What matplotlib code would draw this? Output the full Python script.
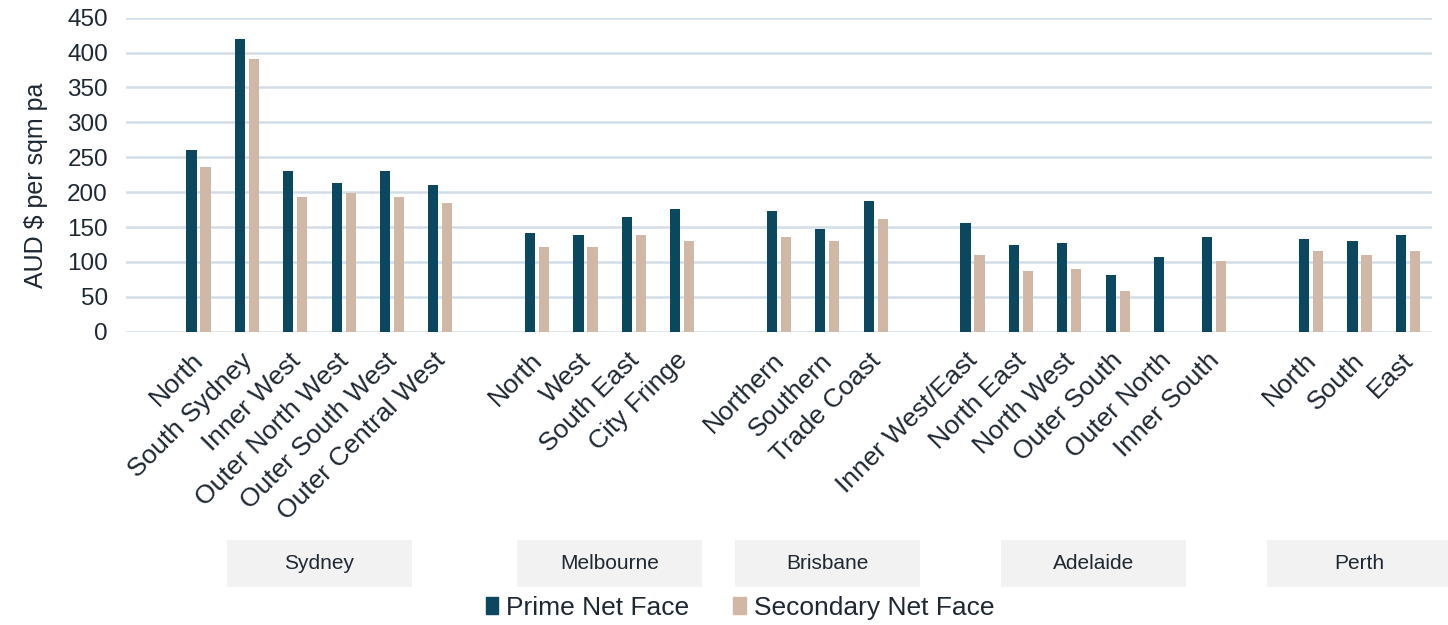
"""Industrial net face rents by city precinct."""

import matplotlib
matplotlib.use("Agg")
import matplotlib.pyplot as plt
from matplotlib.patches import Patch, Rectangle
import matplotlib.transforms as mtransforms

plt.rcParams["font.family"] = ["Liberation Sans", "DejaVu Sans"]

TEXT = "#1e2833"
PRIME_COLOR = "#0b475e"
SECONDARY_COLOR = "#d1b8a6"
GRID_COLOR = "#d3dde8"

cities = ["Sydney", "Melbourne", "Brisbane", "Adelaide", "Perth"]
precincts = [
    ["North", "South Sydney", "Inner West", "Outer North West",
     "Outer South West", "Outer Central West"],
    ["North", "West", "South East", "City Fringe"],
    ["Northern", "Southern", "Trade Coast"],
    ["Inner West/East", "North East", "North West", "Outer South",
     "Outer North", "Inner South"],
    ["North", "South", "East"],
]
prime = [
    [260, 420, 230, 213, 230, 210],
    [141, 139, 164, 176],
    [173, 147, 187],
    [156, 124, 127, 81, 107, 136],
    [133, 130, 139],
]
secondary = [
    [236, 391, 193, 199, 193, 184],
    [121, 121, 139, 130],
    [136, 130, 161],
    [110, 87, 90, 58, None, 101],
    [116, 110, 116],
]

# one empty slot in front of every city group
xs, labels, p_vals, s_vals, group_centres = [], [], [], [], []
pos = 0
for names, pv, sv in zip(precincts, prime, secondary):
    pos += 1
    start = pos
    for n, a, b in zip(names, pv, sv):
        xs.append(pos)
        labels.append(n)
        p_vals.append(a)
        s_vals.append(b)
        pos += 1
    group_centres.append((start + pos - 1) / 2)

fig = plt.figure(figsize=(14.48, 6.25), dpi=100)
ax = fig.add_axes([0.087, 0.4693, 0.902, 0.5024])

w = 0.21
off = 0.145
ax.bar([x - off for x in xs], p_vals, width=w, color=PRIME_COLOR, zorder=3)
sx = [x + off for x, v in zip(xs, s_vals) if v is not None]
sv = [v for v in s_vals if v is not None]
ax.bar(sx, sv, width=w, color=SECONDARY_COLOR, zorder=3)

ax.set_xlim(-0.5, pos - 0.5)
ax.set_ylim(0, 450)
ax.set_yticks(range(0, 451, 50))
ax.yaxis.grid(True, color=GRID_COLOR, linewidth=1.8, zorder=0)
for s in ax.spines.values():
    s.set_visible(False)
ax.tick_params(axis="both", length=0, labelcolor=TEXT)
ax.tick_params(axis="y", pad=13, labelsize=17.5)

ax.set_xticks(xs)
ax.set_xticklabels(labels, rotation=45, ha="right", va="top",
                   rotation_mode="anchor", fontsize=19)
ax.tick_params(axis="x", pad=12)
nudge = mtransforms.ScaledTranslation(-7 / 100, 0, fig.dpi_scale_trans)
for lab in ax.get_xticklabels():
    lab.set_transform(lab.get_transform() + nudge)

ax.set_ylabel("AUD $ per sqm pa", fontsize=18, color=TEXT)
ax.yaxis.set_label_coords(-0.06, 0.465)

# city boxes under the precinct labels
trans = mtransforms.blended_transform_factory(ax.transData, ax.transAxes)
box_w = 3.82
for city, c in zip(cities, group_centres):
    ax.add_patch(Rectangle((c - box_w / 2, -0.813), box_w, 0.15,
                           transform=trans, facecolor="#f2f2f2",
                           edgecolor="none", clip_on=False))
    ax.text(c, -0.738, city, transform=trans, ha="center", va="center",
            fontsize=15, color=TEXT)

handles = [Patch(color=PRIME_COLOR, label="Prime Net Face"),
           Patch(color=SECONDARY_COLOR, label="Secondary Net Face")]
fig.legend(handles=handles, loc="center", bbox_to_anchor=(0.511, 0.027),
           ncol=2, frameon=False, fontsize=19, handlelength=0.48,
           handleheight=0.6, handletextpad=0.3, columnspacing=1.65,
           labelcolor=TEXT)

fig.savefig("out.png", dpi=100)
